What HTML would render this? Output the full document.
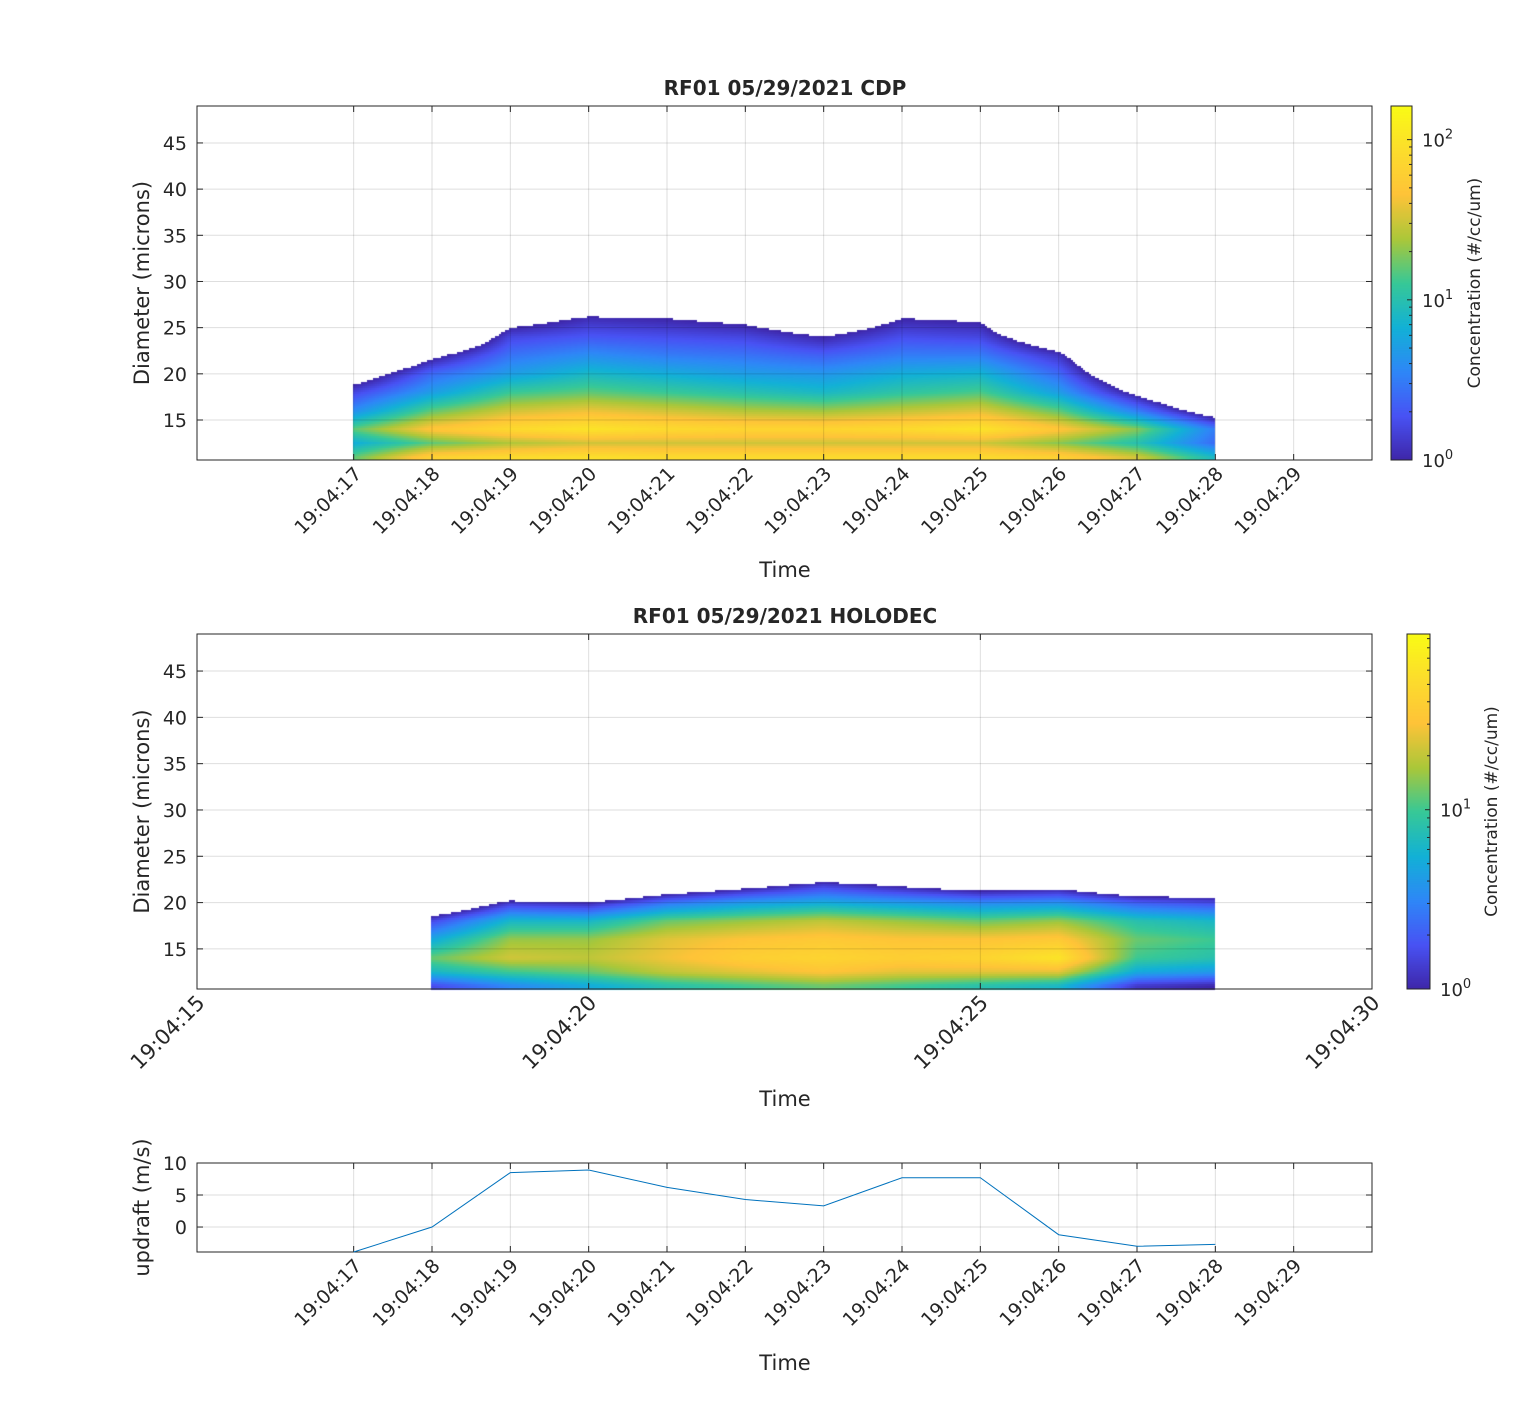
<!DOCTYPE html>
<html><head><meta charset="utf-8">
<style>
body{margin:0;background:#fff;}
#wrap{position:relative;width:1517px;height:1409px;}
canvas,svg{position:absolute;left:0;top:0;}
text{font-family:"DejaVu Sans","Liberation Sans",sans-serif;fill:#262626;}
</style></head>
<body>
<div id="wrap">
<canvas id="cv" width="1517" height="1409"></canvas>
<svg id="sv" width="1517" height="1409" xmlns="http://www.w3.org/2000/svg"></svg>
</div>
<script>
// ---- data ----
const cdpTimes = [17,18,19,20,21,22,23,24,25,26,27,28];
const cdpDiams = [11,12.5,14,16,18,20,22,24,26,28];
const cdpLogConc = [
 [1.2,0.8,1.2,0.6,0.2,-0.3,-1,-1.5,-2,-2],
 [1.8,1.2,1.7,1.2,0.7,0.4,-0.1,-0.8,-1.5,-2],
 [1.9,1.4,1.9,1.5,1.1,0.7,0.45,0.2,-0.2,-1],
 [1.95,1.5,2.0,1.6,1.2,0.9,0.6,0.3,0.05,-0.5],
 [1.9,1.5,1.9,1.5,1.1,0.8,0.5,0.25,0.0,-0.6],
 [1.9,1.5,1.85,1.4,1.0,0.7,0.45,0.2,-0.1,-0.7],
 [1.9,1.5,1.85,1.35,0.9,0.65,0.35,0.0,-0.4,-1],
 [1.9,1.5,1.9,1.45,1.05,0.8,0.5,0.25,0.0,-0.6],
 [1.9,1.5,2.0,1.55,1.15,0.85,0.5,0.2,-0.05,-0.6],
 [1.8,1.3,1.7,1.2,0.7,0.4,0.1,-0.4,-1,-1.5],
 [1.5,1.0,1.3,0.5,-0.1,-0.6,-1,-1.5,-2,-2],
 [0.9,0.4,0.5,-0.3,-1,-1.5,-2,-2,-2,-2]
];
const holoTimes = [18,19,20,21,22,23,24,25,26,27,28];
const holoDiams = [11,12.5,14,16,18,20,22,24];
const holoLogConc = [
 [0.2,0.8,1.1,0.7,0.2,-0.6,-1.5,-2],
 [0.5,1.0,1.35,1.2,0.8,0.1,-1,-2],
 [0.7,1.1,1.3,1.2,0.8,0.0,-1,-2],
 [0.9,1.3,1.45,1.4,1.1,0.4,-0.5,-2],
 [1.0,1.4,1.6,1.5,1.2,0.6,-0.2,-1.5],
 [1.1,1.5,1.65,1.55,1.3,0.7,0.1,-1],
 [1.0,1.4,1.6,1.5,1.2,0.6,-0.1,-1.2],
 [0.9,1.4,1.65,1.5,1.1,0.5,-0.3,-1.5],
 [0.8,1.4,1.8,1.55,1.2,0.55,-0.2,-1.5],
 [0.1,0.7,1.0,1.1,0.9,0.3,-0.6,-2],
 [0.0,0.6,0.9,1.0,0.8,0.2,-0.6,-2]
];
const updraftTimes = [17,18,19,20,21,22,23,24,25,26,27,28];
const updraftValues = [-3.9,0,8.5,8.9,6.2,4.3,3.3,7.7,7.7,-1.2,-3.0,-2.7];
const secTickValues = [17,18,19,20,21,22,23,24,25,26,27,28,29];
const secTickLabels = ["19:04:17","19:04:18","19:04:19","19:04:20","19:04:21","19:04:22","19:04:23","19:04:24","19:04:25","19:04:26","19:04:27","19:04:28","19:04:29"];
const holoTickValues = [15,20,25,30];
const holoTickLabels = ["19:04:15","19:04:20","19:04:25","19:04:30"];
const diamTicks = [15,20,25,30,35,40,45];
const updraftTicks = [0,5,10];

// ---- helpers ----
const NS="http://www.w3.org/2000/svg";
const sv=document.getElementById('sv');
function el(tag,attrs,parent,txt){const e=document.createElementNS(NS,tag);for(const k in attrs)e.setAttribute(k,attrs[k]);if(txt!==undefined)e.textContent=txt;(parent||sv).appendChild(e);return e;}
const PAR=[[0,[62,38,168]],[0.125,[72,82,244]],[0.25,[46,135,247]],[0.375,[18,177,214]],[0.5,[55,200,151]],[0.625,[171,199,57]],[0.75,[254,195,56]],[0.875,[252,221,44]],[1,[249,251,21]]];
function parula(f){f=Math.max(0,Math.min(1,f));for(let i=1;i<PAR.length;i++){if(f<=PAR[i][0]){const a=PAR[i-1],b=PAR[i];const u=(f-a[0])/(b[0]-a[0]);return a[1].map((c,j)=>Math.round(c+(b[1][j]-c)*u));}}return PAR[PAR.length-1][1];}
const ctx=document.getElementById('cv').getContext('2d');
const XL=197,XR=1372;
function xs(t,lo,hi){return XL+(t-lo)/(hi-lo)*(XR-XL);}
function heat(times,diams,M,top,bot,ylo,yhi,cmax){
  for(let px=XL;px<XR;px+=2){
    const t=15+(px+1-XL)/(XR-XL)*15;
    if(t<times[0]||t>times[times.length-1])continue;
    let i=0;while(i<times.length-2&&t>times[i+1])i++;
    const ft=(t-times[i])/(times[i+1]-times[i]);
    for(let py=top;py<bot;py+=2){
      let d=yhi-(py+1-top)/(bot-top)*(yhi-ylo);
      if(d<diams[0])d=diams[0];
      if(d>diams[diams.length-1])continue;
      let j=0;while(j<diams.length-2&&d>diams[j+1])j++;
      const fd=(d-diams[j])/(diams[j+1]-diams[j]);
      const v=(M[i][j]*(1-fd)+M[i][j+1]*fd)*(1-ft)+(M[i+1][j]*(1-fd)+M[i+1][j+1]*fd)*ft;
      if(v<0)continue;
      const c=parula(v/cmax);
      ctx.fillStyle='rgb('+c.join(',')+')';
      ctx.fillRect(px,py,2,2);
    }
  }
}
function colorbar(x,w,top,bot,cmax,lx,name){
  for(let y=top;y<bot;y++){const c=parula((bot-y)/(bot-top));ctx.fillStyle='rgb('+c.join(',')+')';ctx.fillRect(x,y,w,1);}
  el('rect',{x:x,y:top,width:w,height:bot-top,fill:'none',stroke:'#262626','stroke-width':1,});
  const per=(bot-top)/cmax;
  for(let dec=0;dec<=Math.floor(cmax);dec++){
    const y=bot-dec*per;
    el('line',{x1:x+w-5,x2:x+w,y1:y,y2:y,stroke:'#262626'});
    const t=el('text',{x:x+w+10,y:y+7,'font-size':18,},sv,'10');
    el('tspan',{dy:-8,'font-size':13},t,String(dec));
    for(let m=2;m<10;m++){const ym=bot-(dec+Math.log10(m))*per;if(ym>top)el('line',{x1:x+w-3,x2:x+w,y1:ym,y2:ym,stroke:'#262626'});}
  }
  el('text',{x:lx,y:(top+bot)/2,'font-size':17,'text-anchor':'middle',transform:'rotate(-90 '+lx+' '+(top+bot)/2+')',},sv,'Concentration (#/cc/um)');
}
function axes(top,bot,ylo,yhi,yticks,xvals,xlabels,xlo,xhi,title,ylabel,fs,prefix){
  const g=el('g',{});
  const ys=v=>bot-(v-ylo)/(yhi-ylo)*(bot-top);
  yticks.forEach(v=>{const y=ys(v);el('line',{x1:XL,x2:XR,y1:y,y2:y,stroke:'#000','stroke-opacity':0.13},g);
    el('line',{x1:XL,x2:XL+6,y1:y,y2:y,stroke:'#262626'},g);el('line',{x1:XR-6,x2:XR,y1:y,y2:y,stroke:'#262626'},g);
    el('text',{x:XL-10,y:y+7,'font-size':19,'text-anchor':'end',},g,String(v));});
  xvals.forEach((v,k)=>{const x=xs(v,xlo,xhi);el('line',{x1:x,x2:x,y1:top,y2:bot,stroke:'#000','stroke-opacity':0.13},g);
    el('line',{x1:x,x2:x,y1:bot-6,y2:bot,stroke:'#262626'},g);el('line',{x1:x,x2:x,y1:top,y2:top+6,stroke:'#262626'},g);
    el('text',{transform:'translate('+(x+9)+','+(bot+15)+') rotate(-45)','font-size':fs,'text-anchor':'end',},g,xlabels[k]);});
  el('rect',{x:XL,y:top,width:XR-XL,height:bot-top,fill:'none',stroke:'#262626','stroke-width':1},g);
  if(title)el('text',{x:785,y:top-11,'font-size':20,'font-weight':'bold','text-anchor':'middle',fill:'#000',},g,title);
  const cy=(top+bot)/2;
  el('text',{x:149,y:cy,'font-size':21,'text-anchor':'middle',transform:'rotate(-90 149 '+cy+')',},g,ylabel);
  return ys;
}
// ---- plot 1 CDP ----
heat(cdpTimes,cdpDiams,cdpLogConc,106,460,10.67,49,2.21);
axes(106,460,10.67,49,diamTicks,secTickValues,secTickLabels,15,30,'RF01 05/29/2021 CDP','Diameter (microns)',19,'cdp');
el('text',{x:785,y:577,'font-size':21,'text-anchor':'middle',},sv,'Time');
colorbar(1391,21,106,460,2.21,1480,'cdp-colorbar');
// ---- plot 2 HOLODEC ----
heat(holoTimes,holoDiams,holoLogConc,634,989,10.67,49,1.98);
axes(634,989,10.67,49,diamTicks,holoTickValues,holoTickLabels,15,30,'RF01 05/29/2021 HOLODEC','Diameter (microns)',21,'holodec');
el('text',{x:785,y:1106,'font-size':21,'text-anchor':'middle',},sv,'Time');
colorbar(1407,23,634,989,1.98,1497,'holodec-colorbar');
// ---- plot 3 updraft ----
const uy=axes(1163,1252,-3.9,10,updraftTicks,secTickValues,secTickLabels,15,30,null,'updraft (m/s)',19,'updraft');
const pts=updraftTimes.map((t,k)=>xs(t,15,30)+','+uy(updraftValues[k])).join(' ');
el('polyline',{points:pts,fill:'none',stroke:'#0072BD','stroke-width':1,});
el('text',{x:785,y:1370,'font-size':21,'text-anchor':'middle',},sv,'Time');
</script>
</body></html>
